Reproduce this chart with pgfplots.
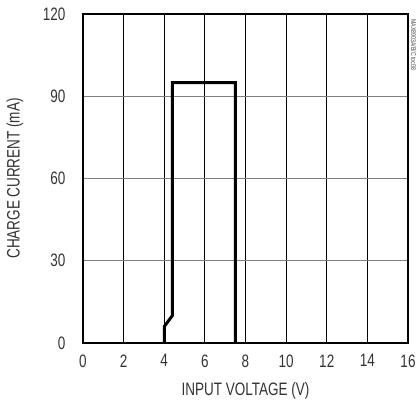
\documentclass[border=0pt]{standalone}
\usepackage{fontspec}
\setmainfont{Liberation Sans}[FakeStretch=0.75]
\usepackage{pgfplots}
\pgfplotsset{compat=1.18}
\definecolor{txt}{RGB}{51,51,51}
\definecolor{hgrid}{RGB}{128,128,128}

\begin{document}
\begin{tikzpicture}
\begin{axis}[
    at={(0,0)}, anchor=south west,
    scale only axis, width=325pt, height=329pt,
    xmin=0, xmax=16, ymin=0, ymax=120,
    xtick={0,2,...,16}, ytick={0,30,...,120},
    tick style={draw=none},
    axis line style={line width=2.6pt},
    xmajorgrids, ymajorgrids,
    x grid style={black, line width=0.9pt},
    y grid style={hgrid, line width=1.4pt},
    font=\fontsize{18}{20}\selectfont,
    /pgf/number format/assume math mode=true,
    tick label style={text=txt},
    xticklabel style={yshift=-8pt},
    yticklabel style={xshift=-14pt},
    xlabel={INPUT VOLTAGE (V)},
    ylabel={CHARGE CURRENT (mA)},
    xlabel style={at={(axis description cs:0.5,0)}, anchor=north, yshift=-36pt, text=txt},
    ylabel style={at={(axis description cs:-0.209,0.5)}, anchor=center, text=txt},
    clip=false,
]
\addplot[line width=3pt, black, line join=miter] coordinates {
    (4,0) (4,6) (4.4,10) (4.4,95) (7.5,95) (7.5,0)
};
\node[rotate=-90, anchor=south west, font=\fontsize{7}{8}\selectfont, text=black!70, inner sep=0pt]
    at (axis description cs:1.009,0.985) {MAX8903A/B/C toc08};
\end{axis}
\pgfresetboundingbox
\path[use as bounding box] (-83pt,-60pt) rectangle (334pt,343pt);
\end{tikzpicture}
\end{document}
